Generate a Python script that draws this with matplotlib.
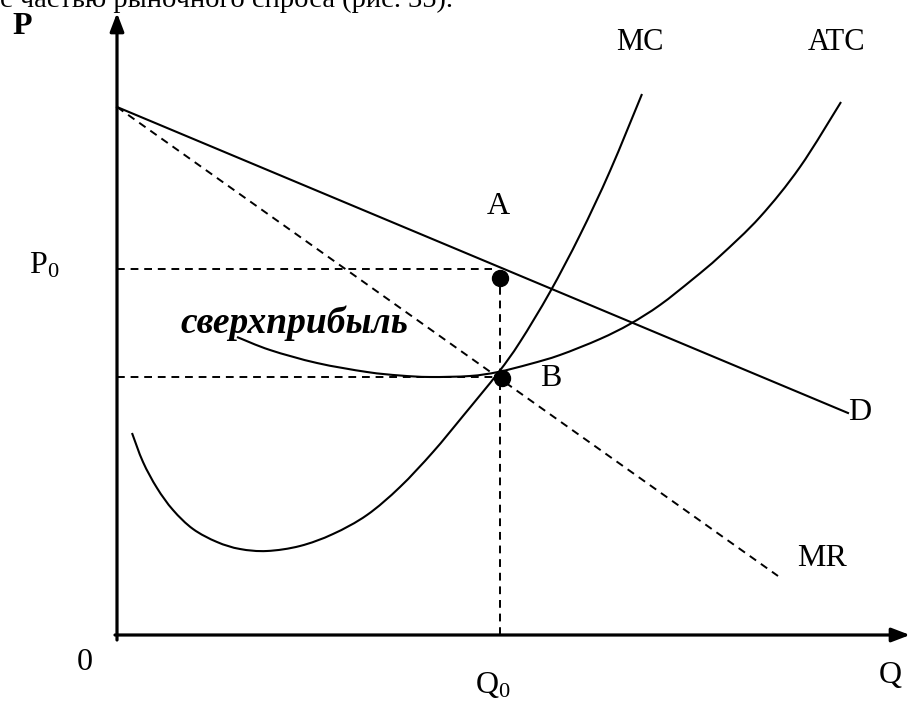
import matplotlib
matplotlib.use("Agg")
import matplotlib.pyplot as plt
from matplotlib.path import Path
from matplotlib.patches import PathPatch

plt.rcParams['font.family'] = ['Liberation Serif', 'DejaVu Serif']
plt.rcParams['mathtext.fontset'] = 'custom'
plt.rcParams['mathtext.rm'] = 'Liberation Serif'
plt.rcParams['mathtext.it'] = 'Liberation Serif'

# Demand and marginal revenue (straight lines, end points)
d_q = [0.0, 73.1]
d_p = [52.8, 22.2]
mr_q = [0.0, 66.1]
mr_p = [52.8, 5.9]

# Marginal cost curve
mc_q = [1.5, 2.6, 4.0, 5.6, 7.6, 10.0, 12.3, 15.0, 18.3, 21.6, 25.0, 28.3,
        31.6, 34.6, 38.1, 40.3, 43.3, 46.3, 49.3, 52.5]
mc_p = [20.2, 17.3, 14.7, 12.5, 10.6, 9.3, 8.6, 8.4, 8.9, 10.1, 12.0, 14.8,
        18.3, 21.9, 26.2, 29.3, 34.3, 40.0, 46.4, 54.1]

# Average total cost curve
atc_q = [12.0, 15.3, 20.0, 25.0, 28.3, 31.3, 35.3, 38.1, 41.3, 44.3, 48.3,
         51.3, 54.3, 57.6, 60.3, 64.3, 68.3, 72.4]
atc_p = [29.8, 28.5, 27.2, 26.3, 25.95, 25.8, 25.9, 26.3, 27.1, 28.0, 29.6,
         31.1, 33.0, 35.6, 37.9, 41.8, 46.8, 53.3]

# Equilibrium values
q0 = 38.3
p0 = 36.6
p_atc = 25.8
point_a = (38.3, 35.7)
point_b = (38.5, 25.7)

q_max = 79.3
p_max = 62.2


def smooth_path(xs, ys):
    # bezier path through the read points (catmull-rom style handles)
    pts = list(zip(xs, ys))
    verts = [pts[0]]
    codes = [Path.MOVETO]
    for i in range(len(pts) - 1):
        p_prev = pts[i - 1] if i > 0 else pts[i]
        p_next = pts[i + 2] if i + 2 < len(pts) else pts[i + 1]
        a, b = pts[i], pts[i + 1]
        c1 = (a[0] + (b[0] - p_prev[0]) / 6, a[1] + (b[1] - p_prev[1]) / 6)
        c2 = (b[0] - (p_next[0] - a[0]) / 6, b[1] - (p_next[1] - a[1]) / 6)
        verts += [c1, c2, b]
        codes += [Path.CURVE4] * 3
    return Path(verts, codes)


fig = plt.figure(figsize=(9.11, 7.05), dpi=100)
ax = fig.add_axes([0, 0, 1, 1])
ax.set_xlim(-11.7, 79.4)
ax.set_ylim(-7.0, 63.5)
ax.axis('off')

# axes with arrows
arrow = dict(arrowstyle='-|>,head_length=1.1,head_width=0.42', lw=2.3,
             color='black', shrinkA=0, shrinkB=0)
ax.annotate('', xy=(0, p_max), xytext=(0, -0.5), arrowprops=arrow)
ax.annotate('', xy=(q_max, 0), xytext=(-0.2, 0), arrowprops=arrow)

# curves
ax.plot(d_q, d_p, color='black', lw=1.5)
ax.plot(mr_q, mr_p, color='black', lw=1.4, linestyle=(0, (4, 3)))
ax.add_patch(PathPatch(smooth_path(mc_q, mc_p), fill=False, lw=1.5,
                       edgecolor='black', capstyle='butt'))
ax.add_patch(PathPatch(smooth_path(atc_q, atc_p), fill=False, lw=1.5,
                       edgecolor='black', capstyle='butt'))

# guide lines
dash = dict(color='black', lw=1.4, linestyle=(0, (4, 3)))
ax.plot([0, q0 - 0.8], [p0, p0], **dash)
ax.plot([0, q0], [p_atc, p_atc], **dash)
ax.plot([q0, q0], [0, p0], **dash)

# points A and B
ax.plot(*point_a, 'o', color='black', markersize=11.5)
ax.plot(*point_b, 'o', color='black', markersize=11.5)

fs = 23
ax.text(-9.5, 60.9, 'P', fontsize=fs, fontweight='bold', ha='center', va='center')
ax.text(-3.2, -2.7, '0', fontsize=fs, ha='center', va='center')
ax.text(-7.3, 36.9, r'$\mathrm{P}_{0}$', fontsize=fs, ha='center', va='center')
ax.text(52.3, 59.2, 'MC', fontsize=22, ha='center', va='center')
ax.text(72.0, 59.2, 'ATC', fontsize=22, ha='center', va='center')
ax.text(38.1, 42.8, 'A', fontsize=fs, ha='center', va='center')
ax.text(43.4, 25.6, 'B', fontsize=fs, ha='center', va='center')
ax.text(74.3, 22.3, 'D', fontsize=fs, ha='center', va='center')
ax.text(70.5, 7.7, 'MR', fontsize=fs, ha='center', va='center')
ax.text(77.3, -4.0, 'Q', fontsize=fs, ha='center', va='center')
ax.text(37.6, -5.0, r'$\mathrm{Q}_{0}$', fontsize=fs, ha='center', va='center')
ax.text(29.1, 30.2, 'сверхприбыль', fontsize=27, fontweight='bold',
        fontstyle='italic', ha='right', va='baseline')

# cut-off line of book text at the top
ax.text(-11.7, 62.8, 'с частью рыночного спроса (рис. 35).', fontsize=20.5,
        ha='left', va='baseline')

fig.savefig('out.png', dpi=100)
